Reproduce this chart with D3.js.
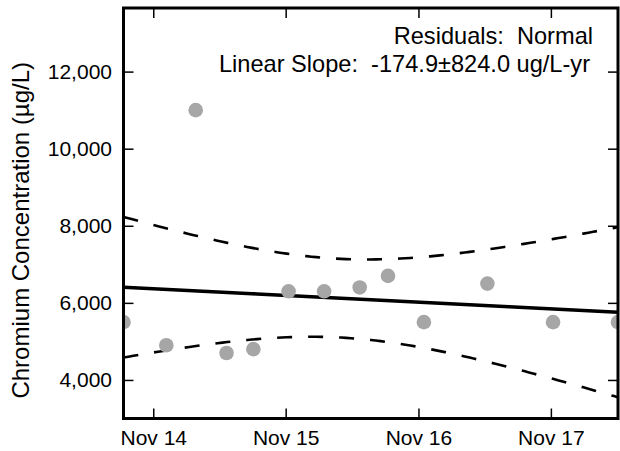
<!DOCTYPE html>
<html>
<head>
<meta charset="utf-8">
<script src="https://cdn.jsdelivr.net/npm/d3@7"></script>
<style>
  html, body { margin: 0; padding: 0; background: #fff; }
  svg { display: block; }
  text { font-family: "Liberation Sans", Arial, sans-serif; fill: #000; }
</style>
</head>
<body>
<svg id="chart" width="620" height="451"></svg>
<script>
// ---- data ----
const sampleDates = ["2014-08-11","2014-12-07","2015-02-26","2015-05-22","2015-08-04","2015-11-09",
                     "2016-02-15","2016-05-23","2016-08-09","2016-11-16","2017-05-10","2017-11-07","2018-05-05"];
const chromium = [5500, 4900, 11000, 4700, 4800, 6300, 6300, 6400, 6700, 5500, 6500, 5500, 5500];
const yTicks = [4000, 6000, 8000, 10000, 12000];
const xTickDates = ["2014-11-01","2015-11-01","2016-11-01","2017-11-01"];
const yDomain = [3000, 13650];
const annotations = ["Residuals:  Normal", "Linear Slope:  -174.9\u00b1824.0 ug/L-yr"];
const yLabel = "Chromium Concentration (\u00b5g/L)";
const tCrit = 2.201; // t(0.975, df = n-2 = 11)

const parse = d3.timeParse("%Y-%m-%d");
const data = sampleDates.map((d, i) => ({ date: parse(d), value: chromium[i] }));

const svg = d3.select("#chart");
const L = 123.5, R = 618, T = 8, B = 418.5;

const x = d3.scaleTime().domain(d3.extent(data, d => d.date)).range([L, R]);
const y = d3.scaleLinear().domain(yDomain).range([B, T]);

// ---- linear fit & 95% confidence band (computed from the data) ----
const yearMs = 365.25 * 24 * 3600 * 1000;
const tv = data.map(d => d.date.getTime() / yearMs);
const n = data.length;
const tMean = d3.mean(tv), vMean = d3.mean(chromium);
const Sxx = d3.sum(tv, t => (t - tMean) ** 2);
const Sxy = d3.sum(tv, (t, i) => (t - tMean) * (chromium[i] - vMean));
const slope = Sxy / Sxx;
const intercept = vMean - slope * tMean;
const sse = d3.sum(tv, (t, i) => (chromium[i] - (intercept + slope * t)) ** 2);
const s = Math.sqrt(sse / (n - 2));
const fitAt = t => intercept + slope * t;
const half = t => tCrit * s * Math.sqrt(1 / n + (t - tMean) ** 2 / Sxx);

const [d0, d1] = x.domain();
const curvePts = d3.range(0, 101).map(k => {
  const ms = d0.getTime() + (d1.getTime() - d0.getTime()) * k / 100;
  const t = ms / yearMs;
  return { date: new Date(ms), fit: fitAt(t), lo: fitAt(t) - half(t), hi: fitAt(t) + half(t) };
});

svg.append("defs").append("clipPath").attr("id", "clip")
  .append("rect").attr("x", L).attr("y", T).attr("width", R - L).attr("height", B - T);

const plot = svg.append("g").attr("clip-path", "url(#clip)");

const lineOf = key => d3.line().x(d => x(d.date)).y(d => y(d[key]));

plot.append("path").datum(curvePts).attr("d", lineOf("hi"))
  .attr("fill", "none").attr("stroke", "#000").attr("stroke-width", 2.6).attr("stroke-dasharray", "15,16");
plot.append("path").datum(curvePts).attr("d", lineOf("lo"))
  .attr("fill", "none").attr("stroke", "#000").attr("stroke-width", 2.6).attr("stroke-dasharray", "15,16");
plot.append("path").datum(curvePts).attr("d", lineOf("fit"))
  .attr("fill", "none").attr("stroke", "#000").attr("stroke-width", 3.6);

plot.selectAll("circle").data(data).join("circle")
  .attr("cx", d => x(d.date)).attr("cy", d => y(d.value)).attr("r", 7.3)
  .attr("fill", "#a6a6a6");

// ---- axes (inward ticks on all four sides) ----
const xTicks = xTickDates.map(parse);
const fmtX = d3.timeFormat("%b %y");
const fmtY = d3.format(",");

const axL = svg.append("g").attr("transform", `translate(${L},0)`)
  .call(d3.axisLeft(y).tickValues(yTicks).tickFormat(fmtY).tickSizeInner(-10).tickSizeOuter(0).tickPadding(11.5));
const axR = svg.append("g").attr("transform", `translate(${R},0)`)
  .call(d3.axisRight(y).tickValues(yTicks).tickFormat("").tickSizeInner(-10).tickSizeOuter(0));
const axB = svg.append("g").attr("transform", `translate(0,${B})`)
  .call(d3.axisBottom(x).tickValues(xTicks).tickFormat(fmtX).tickSizeInner(-10).tickSizeOuter(0).tickPadding(11.5));
const axT = svg.append("g").attr("transform", `translate(0,${T})`)
  .call(d3.axisTop(x).tickValues(xTicks).tickFormat("").tickSizeInner(-10).tickSizeOuter(0));

[axL, axR, axB, axT].forEach(a => {
  a.select(".domain").remove();
  a.selectAll(".tick line").attr("stroke", "#000").attr("stroke-width", 1.5);
  a.selectAll(".tick text").style("font-family", '"Liberation Sans", Arial, sans-serif')
    .style("font-size", "21px").attr("fill", "#000");
});

// frame
svg.append("rect").attr("x", L).attr("y", T).attr("width", R - L).attr("height", B - T)
  .attr("fill", "none").attr("stroke", "#000").attr("stroke-width", 3);

// y label
svg.append("text")
  .attr("transform", `translate(29,${(T + B) / 2 + 17}) rotate(-90)`)
  .attr("text-anchor", "middle")
  .style("font-size", "24px")
  .text(yLabel);

// annotations
svg.append("text").attr("x", 593).attr("y", 43.5).attr("text-anchor", "end")
  .style("font-size", "23.6px").style("white-space", "pre").text(annotations[0]);
svg.append("text").attr("x", 590).attr("y", 71.5).attr("text-anchor", "end")
  .style("font-size", "23.6px").style("white-space", "pre").text(annotations[1]);
</script>
</body>
</html>
